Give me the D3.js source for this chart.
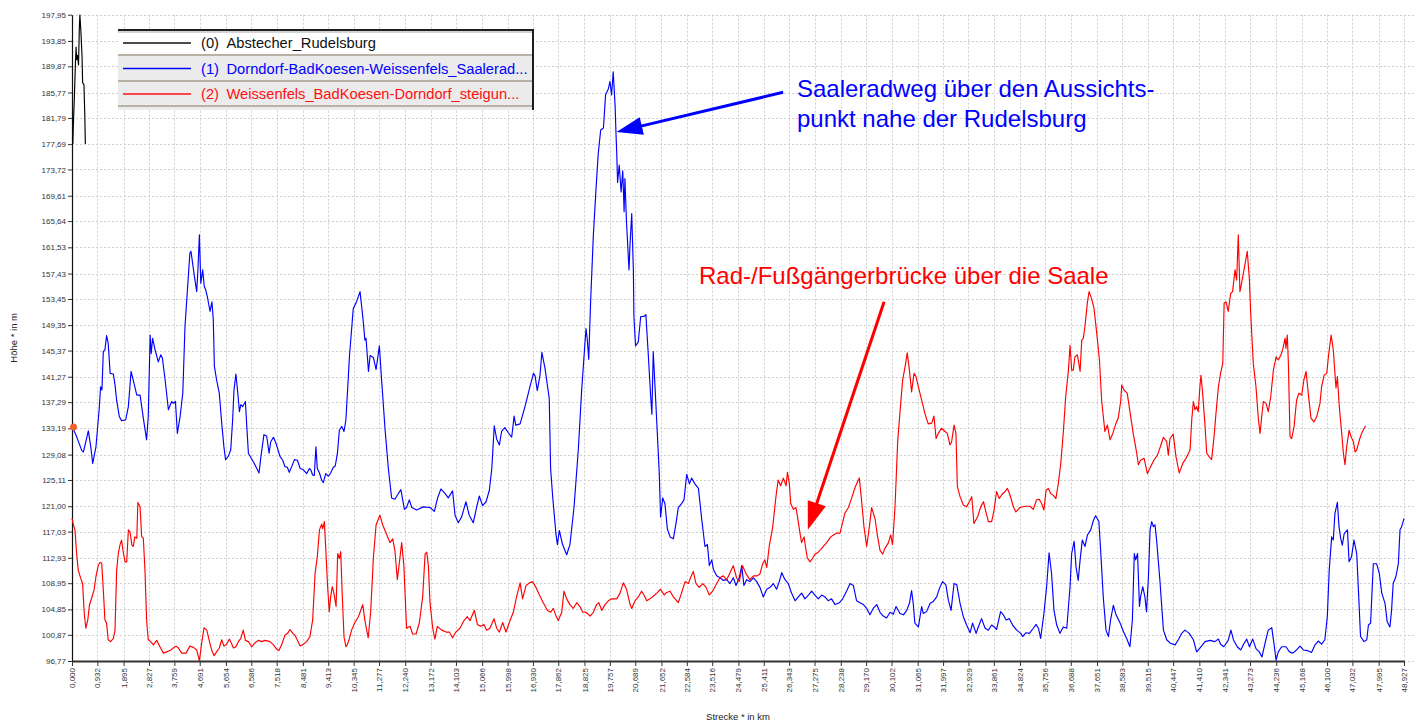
<!DOCTYPE html>
<html>
<head>
<meta charset="utf-8">
<title>Höhenprofil</title>
<script src="https://cdn.jsdelivr.net/npm/d3@7"></script>
<style>
  html, body { margin: 0; padding: 0; background: #ffffff; }
  svg { display: block; font-family: "Liberation Sans", Arial, sans-serif; }
</style>
</head>
<body>
<svg id="chart" width="1418" height="724"></svg>
<script>
// Distance tick labels (km) and elevation tick labels (m)
const xTicks = [0.000,0.932,1.895,2.827,3.759,4.691,5.654,6.586,7.518,8.481,9.413,10.345,11.277,12.240,13.172,14.103,15.066,15.998,16.930,17.862,18.825,19.757,20.689,21.652,22.584,23.516,24.479,25.411,26.343,27.275,28.238,29.170,30.102,31.065,31.997,32.929,33.861,34.824,35.756,36.688,37.651,38.583,39.515,40.447,41.410,42.341,43.273,44.236,45.168,46.100,47.032,47.995,48.927];
const yTicks = [96.77,100.87,104.85,108.95,112.93,117.03,121.00,125.11,129.08,133.19,137.29,141.27,145.37,149.35,153.45,157.43,161.53,165.64,169.61,173.72,177.69,181.79,185.77,189.87,193.85,197.95];

// Series labels
const legendIndex = ["(0)", "(1)", "(2)"];
const legendNames = ["Abstecher_Rudelsburg", "Dorndorf-BadKoesen-Weissenfels_Saalerad...", "Weissenfels_BadKoesen-Dorndorf_steigun..."];

// (0) short detour up to the Rudelsburg: [km, m]
const profileRudelsburg = [[0.03,177.7],[0.05,180.7],[0.09,185.4],[0.13,190.9],[0.15,192.9],[0.17,190.9],[0.20,191.6],[0.24,190.1],[0.27,196.0],[0.29,197.9],[0.33,195.1],[0.37,191.3],[0.39,187.3],[0.44,187.0],[0.47,182.2],[0.49,177.7]];

// (1) Dorndorf – Bad Kösen – Weißenfels along the Saale cycle path: [km, m]
const profileSaaleradweg = [[0.00,133.5],[0.17,131.9],[0.36,129.7],[0.42,129.5],[0.60,132.8],[0.69,130.3],[0.76,127.7],[0.88,130.3],[1.00,136.3],[1.05,139.7],[1.10,139.2],[1.15,145.2],[1.21,145.5],[1.27,147.7],[1.33,146.5],[1.40,141.8],[1.52,141.7],[1.58,140.0],[1.64,137.6],[1.74,135.0],[1.82,134.4],[1.97,134.5],[2.07,136.6],[2.17,142.1],[2.28,140.2],[2.38,138.4],[2.50,138.4],[2.62,134.8],[2.74,131.4],[2.80,135.0],[2.87,147.8],[2.91,144.9],[2.96,147.3],[3.05,145.5],[3.17,143.6],[3.26,144.7],[3.32,144.2],[3.42,140.8],[3.54,136.1],[3.66,137.4],[3.72,137.1],[3.80,137.4],[3.87,132.4],[3.97,135.0],[4.07,138.7],[4.15,149.1],[4.24,154.9],[4.33,160.6],[4.37,160.9],[4.48,157.5],[4.58,154.6],[4.62,157.5],[4.68,163.5],[4.73,155.9],[4.80,158.0],[4.86,155.4],[4.91,154.9],[4.98,153.6],[5.07,151.5],[5.14,153.0],[5.19,150.2],[5.23,142.9],[5.31,140.8],[5.41,138.7],[5.50,134.0],[5.58,130.3],[5.64,128.3],[5.74,128.8],[5.83,129.8],[5.90,134.5],[5.95,139.2],[6.02,141.7],[6.09,138.7],[6.15,135.8],[6.20,136.9],[6.27,136.6],[6.37,137.4],[6.42,133.5],[6.48,129.3],[6.56,128.7],[6.72,127.5],[6.87,126.2],[6.94,128.8],[7.05,132.2],[7.15,132.0],[7.24,129.3],[7.30,131.1],[7.40,131.8],[7.49,130.9],[7.64,128.8],[7.74,128.2],[7.82,127.2],[7.91,127.1],[7.98,126.3],[8.07,127.2],[8.17,128.3],[8.28,128.2],[8.38,126.9],[8.50,126.7],[8.62,126.1],[8.72,126.9],[8.77,126.7],[8.84,125.9],[8.90,125.8],[8.96,130.3],[9.01,126.9],[9.09,126.2],[9.17,125.1],[9.23,124.7],[9.32,126.1],[9.42,125.7],[9.50,126.2],[9.60,127.1],[9.67,127.3],[9.75,129.3],[9.82,132.9],[9.91,133.5],[9.99,132.7],[10.06,134.5],[10.13,139.7],[10.19,144.4],[10.33,151.9],[10.46,153.1],[10.58,154.6],[10.68,150.7],[10.76,147.0],[10.80,147.3],[10.89,142.1],[10.95,144.6],[11.07,144.3],[11.17,142.4],[11.29,146.1],[11.37,140.9],[11.50,133.0],[11.62,126.9],[11.74,122.3],[11.86,122.1],[11.99,123.0],[12.08,123.6],[12.21,120.5],[12.29,120.8],[12.39,122.0],[12.48,120.8],[12.66,120.4],[12.90,120.9],[13.15,120.8],[13.31,120.2],[13.43,122.3],[13.55,123.7],[13.70,123.0],[13.82,122.3],[13.98,123.4],[14.07,119.6],[14.19,118.4],[14.31,119.3],[14.47,121.7],[14.59,119.6],[14.74,118.4],[14.86,120.8],[14.96,122.6],[15.08,121.1],[15.21,121.7],[15.33,123.5],[15.42,126.9],[15.51,133.6],[15.60,131.5],[15.70,130.6],[15.78,132.7],[15.90,133.3],[16.03,132.5],[16.15,131.8],[16.24,135.1],[16.30,133.7],[16.46,133.9],[16.64,136.6],[16.82,139.7],[16.95,141.8],[17.01,141.4],[17.09,139.1],[17.19,141.5],[17.26,145.1],[17.37,142.7],[17.53,137.9],[17.58,126.9],[17.66,122.3],[17.78,116.5],[17.83,115.0],[17.90,117.2],[18.02,115.0],[18.17,113.4],[18.29,115.0],[18.44,120.8],[18.60,130.0],[18.72,139.1],[18.81,144.6],[18.88,148.8],[18.93,147.0],[18.98,144.0],[19.05,153.1],[19.15,163.4],[19.25,170.8],[19.33,176.2],[19.42,179.9],[19.52,180.2],[19.60,185.4],[19.70,186.3],[19.76,187.5],[19.82,185.4],[19.88,189.0],[19.95,183.6],[19.98,179.6],[20.01,176.2],[20.04,171.7],[20.10,174.4],[20.17,170.2],[20.23,173.5],[20.28,167.1],[20.31,172.3],[20.37,165.3],[20.46,158.0],[20.50,162.2],[20.56,166.8],[20.62,158.0],[20.64,150.7],[20.70,146.1],[20.80,146.7],[20.89,150.7],[21.01,150.7],[21.08,151.0],[21.17,144.6],[21.26,137.9],[21.30,135.4],[21.35,145.2],[21.43,138.5],[21.50,132.4],[21.57,126.3],[21.62,119.3],[21.70,122.3],[21.78,121.4],[21.87,117.4],[21.97,116.2],[22.09,115.9],[22.19,118.4],[22.27,120.8],[22.39,121.4],[22.48,122.0],[22.58,126.0],[22.68,124.5],[22.76,125.4],[22.88,124.5],[23.01,123.8],[23.13,119.0],[23.25,114.7],[23.34,115.0],[23.41,111.7],[23.50,112.6],[23.56,111.1],[23.68,110.1],[23.80,109.8],[23.92,109.4],[24.05,109.5],[24.17,108.9],[24.29,109.8],[24.39,108.6],[24.51,109.8],[24.60,111.7],[24.68,108.6],[24.78,109.5],[24.90,109.2],[25.03,109.8],[25.15,109.2],[25.27,108.3],[25.39,106.8],[25.52,108.0],[25.64,108.3],[25.76,108.9],[25.88,108.0],[25.98,109.2],[26.07,110.6],[26.19,109.5],[26.31,108.9],[26.43,107.4],[26.56,106.2],[26.68,106.8],[26.80,107.4],[26.92,106.5],[27.05,107.1],[27.17,107.7],[27.29,107.1],[27.41,106.5],[27.54,107.1],[27.66,106.8],[27.78,106.2],[27.90,106.5],[28.03,105.6],[28.19,105.9],[28.31,106.5],[28.45,107.7],[28.58,108.9],[28.70,108.6],[28.82,106.2],[28.94,105.9],[29.07,105.6],[29.19,105.0],[29.31,104.0],[29.43,105.0],[29.56,105.6],[29.68,104.4],[29.80,103.8],[29.92,103.5],[30.05,104.4],[30.17,104.1],[30.27,105.3],[30.39,104.4],[30.41,104.2],[30.54,104.0],[30.66,104.7],[30.76,105.8],[30.84,107.8],[30.90,105.8],[30.96,102.7],[31.09,102.1],[31.21,105.3],[31.27,104.2],[31.39,104.5],[31.52,105.8],[31.64,106.1],[31.76,106.8],[31.86,108.1],[31.98,109.2],[32.10,108.7],[32.19,106.3],[32.29,104.7],[32.40,108.9],[32.50,108.7],[32.62,105.8],[32.74,103.7],[32.86,102.4],[32.99,101.2],[33.08,102.7],[33.21,101.1],[33.29,102.1],[33.41,103.4],[33.54,101.9],[33.66,101.6],[33.78,102.4],[33.88,102.1],[33.96,101.7],[34.11,104.5],[34.21,104.0],[34.31,103.2],[34.43,103.4],[34.55,102.4],[34.70,101.6],[34.85,101.1],[34.92,100.6],[35.04,101.2],[35.17,101.1],[35.31,101.9],[35.41,102.5],[35.50,101.9],[35.58,100.3],[35.70,104.2],[35.80,108.4],[35.89,113.7],[35.98,110.5],[36.07,104.7],[36.17,102.4],[36.29,101.1],[36.41,102.1],[36.54,101.9],[36.66,108.4],[36.72,113.6],[36.81,115.5],[36.88,111.5],[36.96,109.4],[37.03,112.6],[37.11,115.7],[37.21,114.7],[37.30,116.5],[37.42,117.3],[37.52,118.8],[37.60,119.5],[37.72,118.6],[37.79,113.6],[37.88,106.8],[37.98,101.6],[38.07,100.6],[38.15,103.2],[38.25,105.5],[38.35,104.0],[38.50,102.7],[38.62,101.4],[38.74,100.3],[38.86,99.0],[38.95,103.2],[39.02,113.6],[39.07,112.6],[39.14,113.6],[39.21,105.3],[39.25,106.8],[39.33,108.4],[39.41,106.8],[39.47,104.5],[39.54,110.0],[39.60,117.3],[39.66,118.6],[39.72,117.8],[39.78,118.1],[39.84,115.7],[39.96,109.4],[40.09,101.6],[40.21,100.1],[40.36,99.5],[40.52,99.3],[40.64,100.1],[40.76,101.1],[40.88,101.6],[41.04,101.1],[41.19,100.1],[41.31,98.2],[41.43,98.8],[41.62,99.8],[41.80,100.0],[41.98,99.8],[42.11,100.2],[42.19,99.4],[42.31,99.0],[42.47,100.0],[42.57,101.6],[42.66,100.1],[42.80,99.0],[42.93,98.5],[43.05,99.5],[43.15,100.2],[43.25,99.0],[43.37,100.2],[43.49,98.7],[43.61,98.2],[43.71,97.4],[43.82,99.5],[43.94,101.6],[44.07,102.0],[44.15,99.5],[44.23,96.9],[44.31,98.2],[44.43,99.0],[44.59,99.0],[44.72,98.2],[44.84,98.0],[44.98,98.5],[45.11,99.1],[45.23,98.5],[45.38,98.4],[45.53,98.1],[45.66,99.3],[45.78,99.9],[45.90,99.4],[46.02,100.1],[46.11,103.7],[46.18,111.0],[46.27,116.2],[46.33,115.7],[46.39,119.9],[46.48,121.6],[46.54,117.8],[46.60,116.0],[46.66,114.9],[46.73,116.7],[46.85,117.3],[46.91,112.3],[47.00,113.1],[47.09,115.7],[47.19,113.6],[47.27,106.3],[47.33,100.6],[47.46,99.8],[47.56,100.1],[47.62,102.4],[47.70,102.7],[47.80,112.0],[47.92,112.0],[48.02,110.5],[48.11,107.4],[48.23,105.8],[48.31,102.9],[48.41,102.1],[48.47,104.7],[48.53,108.9],[48.63,110.0],[48.72,112.0],[48.78,117.3],[48.84,117.8],[48.93,119.1]];

// (2) Weißenfels – Bad Kösen – Dorndorf, hilly variant: [km, m]
const profileSteigung = [[0.00,119.1],[0.05,118.1],[0.11,117.3],[0.17,113.6],[0.23,111.0],[0.32,109.7],[0.39,108.9],[0.45,104.2],[0.51,101.9],[0.58,103.2],[0.64,105.5],[0.72,106.6],[0.81,107.9],[0.88,110.0],[0.97,111.8],[1.03,112.2],[1.09,112.1],[1.15,107.9],[1.21,103.2],[1.27,102.7],[1.33,100.1],[1.42,99.8],[1.52,100.3],[1.58,101.6],[1.64,111.0],[1.70,113.6],[1.76,114.9],[1.82,115.7],[1.89,113.6],[1.95,112.3],[2.01,112.3],[2.07,117.3],[2.13,117.0],[2.20,114.9],[2.25,114.7],[2.31,116.2],[2.38,116.0],[2.42,121.6],[2.50,120.9],[2.56,116.2],[2.62,116.0],[2.68,111.0],[2.74,103.2],[2.80,100.1],[2.89,99.8],[2.99,99.3],[3.11,100.0],[3.23,99.0],[3.36,98.0],[3.48,98.2],[3.60,98.4],[3.72,98.8],[3.82,99.1],[3.91,98.8],[4.03,98.0],[4.19,98.0],[4.33,99.1],[4.46,98.9],[4.58,98.5],[4.68,96.8],[4.76,99.5],[4.85,102.0],[4.95,101.6],[5.05,99.8],[5.13,98.5],[5.22,97.6],[5.31,98.2],[5.41,98.8],[5.50,100.1],[5.58,99.1],[5.68,99.4],[5.78,100.2],[5.86,99.5],[5.93,98.8],[6.02,99.0],[6.11,99.8],[6.20,100.3],[6.29,101.6],[6.37,100.0],[6.48,99.8],[6.60,99.0],[6.72,99.6],[6.84,100.0],[6.97,99.8],[7.09,100.0],[7.27,99.8],[7.40,99.3],[7.52,98.6],[7.60,98.4],[7.70,99.3],[7.82,100.8],[7.92,101.1],[8.01,101.7],[8.11,101.1],[8.19,100.8],[8.28,100.0],[8.38,99.1],[8.50,99.4],[8.62,99.8],[8.74,100.6],[8.84,103.2],[8.93,110.5],[9.01,113.1],[9.09,117.3],[9.17,118.2],[9.21,117.5],[9.27,118.6],[9.33,113.6],[9.39,108.4],[9.45,104.5],[9.50,106.8],[9.56,108.4],[9.62,107.4],[9.70,105.3],[9.76,113.6],[9.82,112.8],[9.87,113.9],[9.92,107.9],[9.99,100.6],[10.06,99.0],[10.11,99.3],[10.19,100.3],[10.27,101.6],[10.39,102.8],[10.52,103.7],[10.68,105.6],[10.76,103.1],[10.88,100.4],[10.97,104.4],[11.07,112.9],[11.17,118.1],[11.31,119.6],[11.41,118.1],[11.53,116.9],[11.68,115.3],[11.78,115.9],[11.86,114.1],[11.95,109.5],[12.02,112.0],[12.11,115.3],[12.19,111.7],[12.29,101.9],[12.42,102.2],[12.51,101.0],[12.64,101.0],[12.76,102.8],[12.88,106.8],[12.97,113.5],[13.03,113.8],[13.09,111.7],[13.15,105.9],[13.25,101.9],[13.33,100.2],[13.42,102.2],[13.58,101.6],[13.74,101.3],[13.86,101.3],[13.98,100.4],[14.10,101.3],[14.25,101.9],[14.40,103.1],[14.52,103.7],[14.62,103.1],[14.78,104.7],[14.89,102.5],[15.01,102.2],[15.13,102.5],[15.23,101.6],[15.35,101.9],[15.50,103.4],[15.60,101.9],[15.70,101.3],[15.82,102.8],[15.94,101.3],[16.09,103.1],[16.21,104.4],[16.33,106.8],[16.46,109.0],[16.55,106.5],[16.68,108.6],[16.80,109.0],[16.92,109.2],[17.04,108.3],[17.17,107.1],[17.31,105.9],[17.46,104.7],[17.58,104.4],[17.68,105.0],[17.78,103.8],[17.86,103.1],[17.99,104.4],[18.07,107.7],[18.17,106.5],[18.29,105.6],[18.41,105.0],[18.54,105.9],[18.66,105.3],[18.76,104.4],[18.88,104.4],[19.03,103.8],[19.15,104.4],[19.27,105.6],[19.35,105.9],[19.46,104.7],[19.58,105.6],[19.70,106.2],[19.82,106.5],[20.01,106.5],[20.13,107.4],[20.25,109.0],[20.37,108.0],[20.50,105.6],[20.56,105.0],[20.68,106.2],[20.80,106.8],[20.92,107.7],[21.01,107.1],[21.11,106.2],[21.23,106.5],[21.35,106.9],[21.48,107.4],[21.62,108.0],[21.75,107.1],[21.84,107.5],[21.97,107.7],[22.09,106.8],[22.27,105.9],[22.39,107.4],[22.52,109.2],[22.64,108.9],[22.72,109.8],[22.82,110.8],[22.92,108.9],[23.04,108.3],[23.17,108.9],[23.29,108.3],[23.41,107.1],[23.53,107.7],[23.68,108.9],[23.80,109.8],[23.92,110.1],[24.05,109.5],[24.17,110.6],[24.29,111.7],[24.41,109.8],[24.51,109.2],[24.63,111.7],[24.76,110.4],[24.90,109.5],[25.03,110.1],[25.17,110.1],[25.27,110.4],[25.37,112.0],[25.45,112.6],[25.52,111.4],[25.61,114.7],[25.74,117.8],[25.86,122.6],[25.94,125.1],[26.03,124.2],[26.13,125.4],[26.23,124.2],[26.28,126.3],[26.35,124.5],[26.40,121.4],[26.50,120.5],[26.59,120.8],[26.64,119.6],[26.74,116.8],[26.80,115.3],[26.89,116.2],[26.94,114.7],[27.01,112.9],[27.11,112.3],[27.21,112.9],[27.29,113.5],[27.41,113.8],[27.50,114.2],[27.60,114.7],[27.72,115.3],[27.87,116.2],[27.97,116.5],[28.09,116.8],[28.21,116.8],[28.27,117.8],[28.39,119.9],[28.52,120.8],[28.64,122.3],[28.76,123.9],[28.85,124.8],[28.92,125.4],[29.00,122.0],[29.09,117.8],[29.19,114.7],[29.29,117.8],[29.37,120.8],[29.50,119.0],[29.58,116.5],[29.68,114.1],[29.78,113.5],[29.86,114.4],[29.99,115.3],[30.07,116.5],[30.14,115.0],[30.23,120.8],[30.33,131.2],[30.41,135.5],[30.51,140.7],[30.60,142.8],[30.68,145.0],[30.76,142.3],[30.84,138.9],[30.93,141.8],[31.00,141.3],[31.09,139.7],[31.21,137.6],[31.33,135.5],[31.45,133.9],[31.58,134.0],[31.66,135.1],[31.74,131.6],[31.82,132.4],[31.94,133.2],[32.07,132.7],[32.15,132.4],[32.25,130.6],[32.31,131.1],[32.40,133.7],[32.47,132.4],[32.52,124.1],[32.62,122.5],[32.74,121.2],[32.86,120.9],[32.96,121.7],[33.05,122.5],[33.13,118.3],[33.26,119.3],[33.38,120.9],[33.48,121.7],[33.57,120.1],[33.66,118.6],[33.78,118.6],[33.87,120.4],[33.96,123.3],[34.06,122.2],[34.15,122.8],[34.27,123.3],[34.36,123.8],[34.45,122.8],[34.58,120.9],[34.67,120.1],[34.82,120.8],[35.01,121.0],[35.19,121.0],[35.31,120.5],[35.43,122.0],[35.53,122.1],[35.62,121.4],[35.70,120.4],[35.78,123.5],[35.86,123.8],[35.95,123.0],[36.05,122.7],[36.14,122.2],[36.23,124.6],[36.32,127.7],[36.41,132.4],[36.50,138.1],[36.60,142.3],[36.66,146.2],[36.72,142.3],[36.78,142.3],[36.84,144.4],[36.93,144.7],[37.03,142.1],[37.09,147.0],[37.15,147.3],[37.22,149.6],[37.30,153.0],[37.36,154.6],[37.45,153.5],[37.54,152.0],[37.64,148.1],[37.74,143.9],[37.82,137.6],[37.94,132.7],[38.03,133.7],[38.13,131.4],[38.23,132.4],[38.35,134.0],[38.43,134.8],[38.52,137.4],[38.56,140.0],[38.64,139.2],[38.76,138.7],[38.86,135.8],[38.98,132.4],[39.11,129.3],[39.17,127.5],[39.25,128.2],[39.38,128.5],[39.50,126.1],[39.62,127.2],[39.74,128.2],[39.87,129.0],[39.96,130.1],[40.09,131.8],[40.21,131.1],[40.27,129.0],[40.33,131.6],[40.45,132.3],[40.55,128.8],[40.67,126.2],[40.80,127.7],[40.92,128.5],[41.01,129.3],[41.07,129.8],[41.13,134.5],[41.19,137.4],[41.25,136.1],[41.31,136.6],[41.37,135.8],[41.43,139.7],[41.47,141.5],[41.53,138.7],[41.62,133.5],[41.68,129.3],[41.78,128.7],[41.86,128.3],[41.95,131.9],[42.02,135.5],[42.11,139.7],[42.19,141.8],[42.27,143.4],[42.32,152.8],[42.39,153.0],[42.47,151.5],[42.56,154.3],[42.63,154.6],[42.72,158.0],[42.78,156.4],[42.84,163.5],[42.90,154.6],[42.96,155.9],[43.05,158.0],[43.17,160.9],[43.25,156.4],[43.29,151.7],[43.39,143.4],[43.49,139.7],[43.58,134.5],[43.64,132.4],[43.70,135.0],[43.76,137.4],[43.86,137.1],[43.94,135.8],[44.03,138.1],[44.13,142.3],[44.23,144.4],[44.31,143.9],[44.41,144.7],[44.47,145.5],[44.56,147.3],[44.59,145.7],[44.64,147.8],[44.68,143.4],[44.74,131.9],[44.80,131.6],[44.89,133.5],[44.98,137.6],[45.07,138.7],[45.17,138.4],[45.25,140.8],[45.33,142.1],[45.41,138.7],[45.51,134.8],[45.62,134.2],[45.72,135.0],[45.84,137.1],[45.90,139.7],[45.99,141.5],[46.09,141.8],[46.15,144.4],[46.25,147.8],[46.33,145.5],[46.39,141.8],[46.43,139.5],[46.48,141.3],[46.55,136.6],[46.64,132.4],[46.70,129.3],[46.76,127.5],[46.82,130.3],[46.91,132.9],[46.98,131.9],[47.07,131.1],[47.13,129.5],[47.19,129.8],[47.29,131.4],[47.37,132.4],[47.46,133.2],[47.52,133.6]];

// Start marker of the selected track
const startMarker = [0.0, 133.4];

// Annotation texts
const noteSaaleradweg = ["Saaleradweg über den Aussichts-", "punkt nahe der Rudelsburg"];
const noteBruecke = ["Rad-/Fußgängerbrücke über die Saale"];

// ---------------------------------------------------------------------------
const W = 1418, H = 724;
const plot = { left: 72, right: 1404, top: 14.7, bottom: 661 };
const svg = d3.select("#chart");

const x = d3.scaleLinear().domain([0, 48.927]).range([plot.left, plot.right]);
const y = d3.scaleLinear().domain([96.77, 197.95]).range([plot.bottom, plot.top]);

const de = d3.formatLocale({ decimal: ",", thousands: ".", grouping: [3], currency: ["", " €"] });
const fmtX = de.format(".3f"), fmtY = de.format(".2f");

// dotted grid
const grid = svg.append("g").attr("class", "grid")
  .attr("stroke", "#cfcfcf").attr("stroke-width", 1).attr("stroke-dasharray", "2,2");
grid.selectAll("line.h").data(yTicks).join("line")
  .attr("x1", plot.left).attr("x2", 1414)
  .attr("y1", d => Math.round(y(d)) + 0.5).attr("y2", d => Math.round(y(d)) + 0.5);
grid.selectAll("line.v").data(xTicks.slice(1)).join("line")
  .attr("y1", plot.top).attr("y2", plot.bottom)
  .attr("x1", d => Math.round(x(d)) + 0.5).attr("x2", d => Math.round(x(d)) + 0.5);

// axes
const yAxis = svg.append("g")
  .attr("transform", `translate(${plot.left},0)`)
  .call(d3.axisLeft(y).tickValues(yTicks).tickFormat(fmtY).tickSize(4).tickSizeOuter(0));
yAxis.select(".domain").attr("stroke", "#111").attr("stroke-width", 1.2);
yAxis.selectAll(".tick line").attr("stroke", "#333");
yAxis.selectAll(".tick text").attr("x", -6).attr("fill", "#333")
  .style("font-family", "'Liberation Sans', Arial, sans-serif").style("font-size", "8px");

const xAxis = svg.append("g")
  .attr("transform", `translate(0,${plot.bottom})`)
  .call(d3.axisBottom(x).tickValues(xTicks).tickFormat(fmtX).tickSize(5).tickSizeOuter(0));
xAxis.select(".domain").attr("stroke", "#333").attr("stroke-width", 2);
xAxis.selectAll(".tick line").attr("stroke", "#333");
xAxis.selectAll(".tick text")
  .attr("transform", "rotate(-90)")
  .attr("x", -7).attr("y", 0).attr("dy", "0.32em")
  .attr("text-anchor", "end").attr("fill", "#333")
  .style("font-family", "'Liberation Sans', Arial, sans-serif").style("font-size", "8px");

// axis titles
svg.append("text")
  .attr("transform", `translate(17,${(plot.top + plot.bottom) / 2}) rotate(-90)`)
  .attr("text-anchor", "middle").attr("font-size", 9.5).attr("fill", "#222")
  .text("Höhe * in m");
svg.append("text")
  .attr("x", (plot.left + plot.right) / 2).attr("y", 720)
  .attr("text-anchor", "middle").attr("font-size", 9.5).attr("fill", "#222")
  .text("Strecke * in km");

// profile lines
const line = d3.line().x(d => x(d[0])).y(d => y(d[1]));
const series = [
  { data: profileRudelsburg, color: "#000000" },
  { data: profileSaaleradweg, color: "#0000ff" },
  { data: profileSteigung, color: "#ff0000" }
];
svg.append("g").selectAll("path").data(series).join("path")
  .attr("d", d => line(d.data))
  .attr("fill", "none").attr("stroke", d => d.color)
  .attr("stroke-width", 1.15).attr("stroke-linejoin", "round");

svg.append("circle")
  .attr("cx", x(startMarker[0]) + 1.5).attr("cy", y(startMarker[1]))
  .attr("r", 3.5).attr("fill", "#f06030");

// annotations with arrows
function arrow(g, tail, tip, color, headLen, headHalf, width) {
  const x0 = x(tail[0]), y0 = y(tail[1]), x1 = x(tip[0]), y1 = y(tip[1]);
  const dx = x1 - x0, dy = y1 - y0, len = Math.hypot(dx, dy);
  const ux = dx / len, uy = dy / len;
  const bx = x1 - ux * headLen, by = y1 - uy * headLen;
  g.append("line").attr("x1", x0).attr("y1", y0).attr("x2", bx + ux * 2).attr("y2", by + uy * 2)
    .attr("stroke", color).attr("stroke-width", width);
  g.append("path")
    .attr("d", `M${x1},${y1}L${bx - uy * headHalf},${by + ux * headHalf}L${bx + uy * headHalf},${by - ux * headHalf}Z`)
    .attr("fill", color);
}
const notes = svg.append("g");
arrow(notes, [26.12, 185.8], [20.00, 179.6], "#0000ff", 26, 9, 3);
arrow(notes, [29.83, 153.0], [27.03, 117.3], "#ff0000", 28, 9.5, 3);

notes.selectAll("text.blue").data(noteSaaleradweg).join("text")
  .attr("x", x(26.63)).attr("y", (d, i) => 97 + i * 30)
  .attr("font-size", 24).attr("fill", "#0000ff").text(d => d);
notes.selectAll("text.red").data(noteBruecke).join("text")
  .attr("x", x(23.03)).attr("y", 284)
  .attr("font-size", 24).attr("fill", "#ff0000").text(d => d);

// legend box
const lg = svg.append("g");
const lgLeft = 118, lgRight = 533;
const legendColors = ["#111111", "#0000ff", "#ff1010"];
lg.append("rect").attr("x", lgLeft).attr("y", 30).attr("width", lgRight - lgLeft).attr("height", 80).attr("fill", "#ebebeb");
lg.append("rect").attr("x", lgLeft).attr("y", 31).attr("width", lgRight - lgLeft).attr("height", 23).attr("fill", "#ffffff");
[55, 81, 106].forEach(v => lg.append("line").attr("x1", lgLeft).attr("x2", lgRight).attr("y1", v).attr("y2", v)
  .attr("stroke", "#b8b1a4").attr("stroke-width", 2));
lg.append("line").attr("x1", lgLeft).attr("x2", lgRight + 1).attr("y1", 30).attr("y2", 30).attr("stroke", "#1e1e1e").attr("stroke-width", 2);
lg.append("line").attr("x1", lgLeft).attr("x2", lgRight).attr("y1", 32).attr("y2", 32).attr("stroke", "#a9a9a9").attr("stroke-width", 1);
lg.append("line").attr("x1", lgRight).attr("x2", lgRight).attr("y1", 29).attr("y2", 110).attr("stroke", "#1e1e1e").attr("stroke-width", 2);

const rows = lg.selectAll("g.row").data(legendNames).join("g")
  .attr("transform", (d, i) => `translate(0,${[43, 68.5, 94][i]})`);
rows.append("line").attr("x1", 123).attr("x2", 191).attr("y1", 0).attr("y2", 0)
  .attr("stroke", (d, i) => legendColors[i]).attr("stroke-width", 1.6);
rows.append("text").attr("x", 201).attr("y", 0).attr("dy", "0.36em")
  .attr("font-size", 14.7).attr("fill", (d, i) => legendColors[i])
  .text((d, i) => legendIndex[i]);
rows.append("text").attr("x", 226.5).attr("y", 0).attr("dy", "0.36em")
  .attr("font-size", 14.7).attr("fill", (d, i) => legendColors[i])
  .text(d => d);
</script>
</body>
</html>
